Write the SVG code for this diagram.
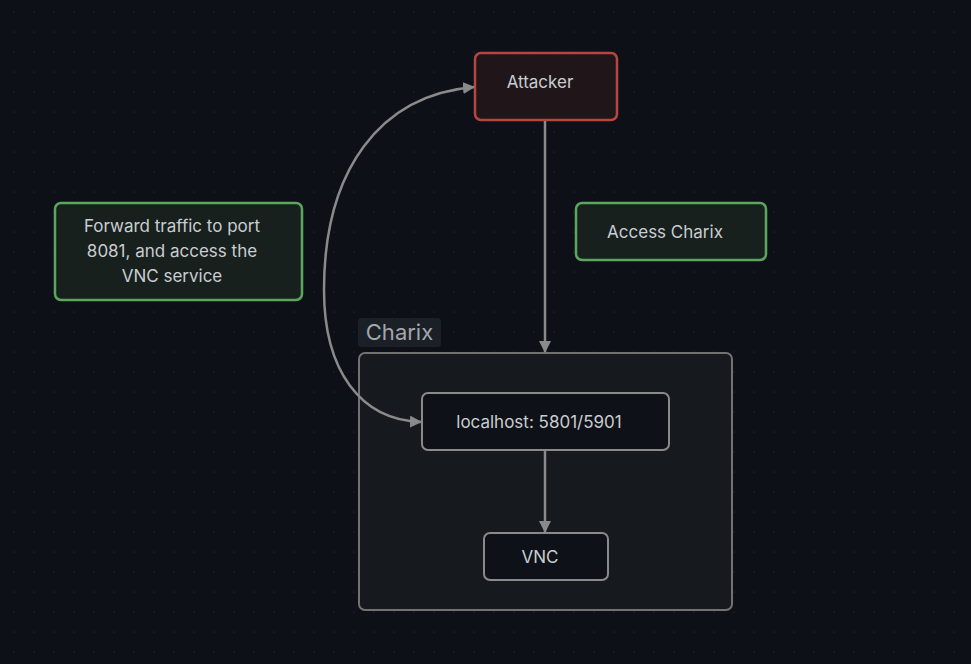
<svg xmlns="http://www.w3.org/2000/svg" width="971" height="664" viewBox="0 0 971 664">
<defs>
<pattern id="dots" x="4" y="2" width="20" height="20" patternUnits="userSpaceOnUse">
<rect x="9.5" y="9.5" width="1.2" height="1.2" fill="#262a33"/>
</pattern>
<marker id="ah" viewBox="0 0 12 12" refX="11" refY="6" markerWidth="12" markerHeight="12" orient="auto-start-reverse" markerUnits="userSpaceOnUse">
<path d="M0,0 L12,6 L0,12 z" fill="#8a8a8a"/>
</marker>
</defs>
<style>
text{font-family:Inter,"Noto Sans","Liberation Sans",sans-serif;fill:#c9cdd2;font-size:17px;text-anchor:middle;dominant-baseline:central}
.edge{fill:none;stroke:#8a8a8a;stroke-width:2.5}
.note{fill:#18201e;stroke:#5aa65c;stroke-width:2.5}
.node{fill:#0e1117;stroke:#8a8a8a;stroke-width:2}
</style>
<rect width="971" height="664" fill="#0d1017"/>
<rect width="971" height="664" fill="url(#dots)"/>

<g id="charix">
<rect x="359" y="353" width="373" height="257" rx="6" fill="#16191e" stroke="#727272" stroke-width="2"/>
<rect x="358" y="318" width="83" height="29" rx="3" fill="#1b1f26"/>
<text x="399.5" y="332" style="font-size:22px;fill:#a3a7ad">Charix</text>
</g>

<g id="attacker">
<rect x="475" y="53" width="142" height="67" rx="6" fill="#201619" stroke="#b6463f" stroke-width="2.5"/>
<text x="540" y="82">Attacker</text>
</g>

<g id="forward-note">
<rect x="55" y="203" width="247" height="97" rx="6" class="note"/>
<text x="172" y="226">Forward traffic to port</text>
<text x="172" y="251">8081, and access the</text>
<text x="172" y="276">VNC service</text>
</g>

<g id="access-note">
<rect x="576" y="203" width="190" height="57" rx="6" class="note"/>
<text x="665" y="232">Access Charix</text>
</g>

<g id="localhost">
<rect x="422" y="393" width="247" height="57" rx="6" class="node"/>
<text x="539" y="422">localhost: 5801/5901</text>
</g>

<g id="vnc">
<rect x="484" y="533" width="124" height="47" rx="6" class="node"/>
<text x="540" y="557">VNC</text>
</g>

<g id="connectors">
<path class="edge" d="M545,121 L545,352" marker-end="url(#ah)"/>
<path class="edge" d="M545,451 L545,532" marker-end="url(#ah)"/>
<path class="edge" d="M421,422 C360,420 324,370 324,290 C324,170 380,95 474,87" marker-start="url(#ah)" marker-end="url(#ah)"/>
</g>
</svg>
